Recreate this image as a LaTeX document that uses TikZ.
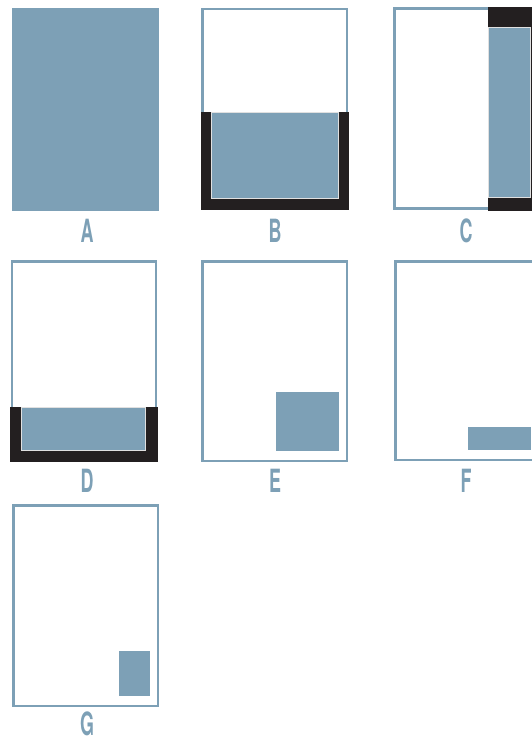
\documentclass[tikz,border=0pt]{standalone}
\usepackage{fontspec}
\usepackage{xcolor}
\newfontfamily\panelfont{TeX Gyre Heros}
\definecolor{paneBlue}{HTML}{7DA0B6}
\definecolor{paneBlack}{HTML}{231F20}

\begin{document}
\begin{tikzpicture}[x=1pt,y=-1pt,
  frame/.style={draw=paneBlue,line width=2.4pt},
  shade/.style={fill=paneBlue},
  inset/.style={fill=paneBlue,draw=black!12,line width=0.9pt},
  band/.style={fill=paneBlack},
  letter/.style={text=paneBlue,font=\panelfont\bfseries\fontsize{32}{32}\selectfont,xscale=0.56,inner sep=0pt}]
\useasboundingbox (0,0) rectangle (532,737);
\clip (0,0) rectangle (532,737);
% A
\fill[shade] (12,8) rectangle (159,211); \node[letter] (la) at (87,230.5) {A};
% B
\draw[frame] (202.5,9) rectangle (347,209);
\fill[band] (201,112) rectangle (349,210);
\draw[inset] (211.5,112) rectangle (338,198); \node[letter] (lb) at (275,230.5) {B};
% C
\draw[frame] (394.5,8.5) rectangle (545,208.5);
\fill[band] (488,7) rectangle (532,211);
\draw[inset] (488,27) rectangle (530.5,197); \node[letter] (lc) at (466,230.5) {C};
% D
\draw[frame] (12,261.5) rectangle (156,461);
\fill[band] (10,407) rectangle (158,462);
\draw[inset] (21.5,407) rectangle (145.5,450); \node[letter] (ld) at (87,480.5) {D};
% E
\draw[frame] (202.5,261.5) rectangle (347,461);
\fill[shade] (276,392) rectangle (339,451); \node[letter] (le) at (275,480.5) {E};
% F
\draw[frame] (395.5,261.5) rectangle (545,460);
\fill[shade] (468,427) rectangle (531,450); \node[letter] (lf) at (466,480.5) {F};
% G
\draw[frame] (13.5,505.5) rectangle (158,706);
\fill[shade] (119,651) rectangle (150,696); \node[letter] (lg) at (87,724) {G};
\end{tikzpicture}
\end{document}
